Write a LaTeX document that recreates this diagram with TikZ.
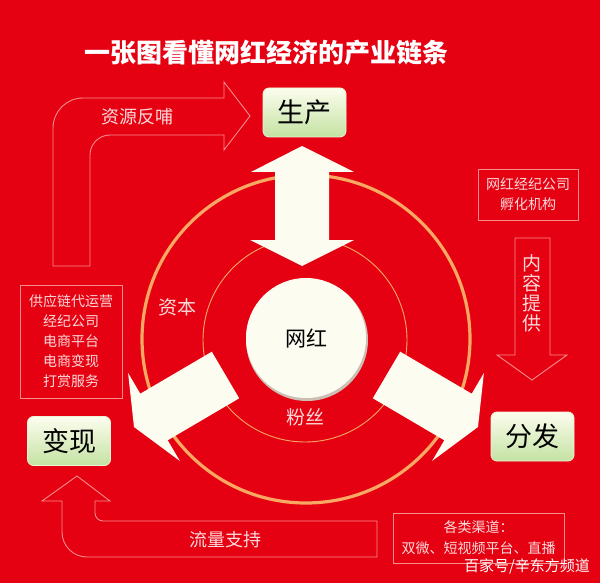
\documentclass[tikz,border=0pt]{standalone}
\usepackage{fontspec}
\setmainfont{Noto Sans CJK SC}
\definecolor{bgred}{RGB}{229,1,18}
\definecolor{ringor}{RGB}{248,168,98}
\definecolor{linepink}{RGB}{247,140,140}
\definecolor{txtpink}{RGB}{252,218,218}
\definecolor{cream}{RGB}{253,252,240}
\definecolor{boxtop}{RGB}{252,253,238}
\definecolor{boxbot}{RGB}{196,226,162}
\definecolor{shadowc}{RGB}{205,190,180}
\tikzset{
  gbox/.style={rounded corners=6pt, top color=boxtop, bottom color=boxbot,
    draw=boxtop!70!boxbot, line width=0.8pt, minimum width=83pt, minimum height=49pt,
    inner sep=0pt, font=\fontsize{27}{30}\selectfont, text=black},
  infobox/.style={draw=linepink, line width=0.9pt, inner sep=0pt, text=txtpink,
    align=center, font=\fontsize{14}{20}\selectfont},
  outl/.style={draw=linepink, line width=0.9pt},
  bigarrow/.style={fill=cream, draw=none},
  lbl/.style={text=txtpink, inner sep=0pt},
}
\begin{document}
\begin{tikzpicture}[x=1pt,y=-1pt]
\useasboundingbox (0,0) rectangle (600,583);
\fill[bgred] (0,0) rectangle (600,583);

% title
\node[text=white, inner sep=0pt, font=\bfseries\fontsize{26}{30}\selectfont] (title) at (266,53) {一张图看懂网红经济的产业链条};

% circles
\draw[ringor, line width=3.2pt] (306,339) circle[radius=164];
\draw[ringor, line width=0.9pt] (305,340) circle[radius=102];
\fill[shadowc] (307,340) circle[radius=61];
\node[circle, fill=cream, minimum size=120pt, inner sep=0pt, font=\fontsize{21}{24}\selectfont] (wh) at (306,338) {网红};

% big arrows
\fill[bigarrow] (275,240) -- (275,172) -- (251,172) -- (302,146) -- (354,172) -- (329,172)
  -- (329,240) -- (354,240) -- (302,266) -- (250,240) -- cycle;
\fill[bigarrow] (211.8,351.7) -- (140.3,393.7) -- (128.1,373) -- (134,427) -- (179.9,461)
  -- (167.7,440.3) -- (239.2,398.3) -- cycle;
\fill[bigarrow] (400.2,351.7) -- (471.7,393.7) -- (483.9,373) -- (478,427) -- (432.1,461)
  -- (444.3,440.3) -- (372.8,398.3) -- cycle;

% circle labels
\node[lbl, font=\fontsize{19}{22}\selectfont] (ziben) at (177,307) {资本};
\node[lbl, font=\fontsize{19}{22}\selectfont] (fensi) at (305,417) {粉丝};

% stage boxes
\node[gbox] (sc) at (304.5,112.5) {生产};
\node[gbox] (bx) at (69,441) {变现};
\node[gbox] (ff) at (532.5,436.5) {分发};

% info boxes
\node[infobox, minimum width=102pt, minimum height=113pt] (lbox) at (71,341.5)
  {供应链代运营\\经纪公司\\电商平台\\电商变现\\打赏服务};
\node[infobox, minimum width=100pt, minimum height=51pt] (rbox) at (528,194.5)
  {网红经纪公司\\孵化机构};
\node[infobox, minimum width=171pt, minimum height=50pt, font=\fontsize{14}{21}\selectfont] (bbox) at (478.5,538)
  {各类渠道：\\双微、短视频平台、直播};

% outline arrows
\draw[outl] (53,266) -- (53,128) arc[start angle=180, end angle=270, radius=30]
  -- (224,98) -- (224,82) -- (250,116) -- (224,150) -- (224,135) -- (110,135)
  arc[start angle=270, end angle=180, radius=20] -- (90,266) -- cycle;
\node[lbl, font=\fontsize{18}{20}\selectfont] (zyfb) at (137,117) {资源反哺};

\draw[outl] (515,238) -- (550,238) -- (550,355) -- (567,355) -- (532,380) -- (497,355)
  -- (515,355) -- cycle;
\node[lbl, align=center, font=\fontsize{19}{20}\selectfont] (nrtg) at (532,293) {内\\容\\提\\供};

\draw[outl] (62,501) -- (62,532) arc[start angle=180, end angle=90, radius=25]
  -- (377,557) -- (377,521) -- (103,521) arc[start angle=90, end angle=180, radius=8]
  -- (95,501) -- (110,501) -- (77,476) -- (42,501) -- cycle;
\node[lbl, font=\fontsize{18}{20}\selectfont] (llzc) at (225,540) {流量支持};

% watermark
\node[text=white, inner sep=0pt, font=\fontsize{15}{18}\selectfont] (wm) at (527,566) {百家号/辛东方频道};
\end{tikzpicture}
\end{document}
